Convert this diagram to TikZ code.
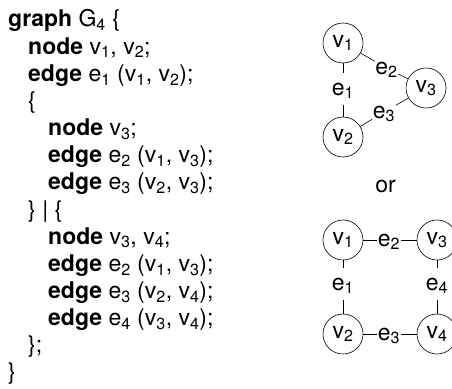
\documentclass[tikz,border=0pt]{standalone}
\usepackage{fontspec}
\setmainfont{TeX Gyre Heros}
\newcommand\sbs[1]{\textsubscript{#1}}
\begin{document}
\begin{tikzpicture}[x=1pt,y=-1pt,
  font=\fontsize{23}{27}\selectfont,
  codeline/.style={anchor=base west, inner sep=0pt},
  vert/.style={draw, circle, minimum size=40pt, inner sep=0pt, line width=0.6pt},
  elab/.style={inner xsep=0.5pt, inner ysep=0pt, text height=22pt, text depth=10pt},
  conn/.style={line width=0.6pt}]
\useasboundingbox (0,0) rectangle (452,388);
% code text
\node[codeline] (l1)  at (8,27)     {\textbf{graph} G\sbs{4} \{};
\node[codeline] (l2)  at (28,54.15) {\textbf{node} v\sbs{1}, v\sbs{2};};
\node[codeline] (l3)  at (28,81.3)  {\textbf{edge} e\sbs{1} (v\sbs{1}, v\sbs{2});};
\node[codeline] (l4)  at (28,108.45){\{};
\node[codeline] (l5)  at (48,135.6) {\textbf{node} v\sbs{3};};
\node[codeline] (l6)  at (48,162.75){\textbf{edge} e\sbs{2} (v\sbs{1}, v\sbs{3});};
\node[codeline] (l7)  at (48,189.9) {\textbf{edge} e\sbs{3} (v\sbs{2}, v\sbs{3});};
\node[codeline] (l8)  at (28,217.05){\} | \{};
\node[codeline] (l9)  at (48,244.2) {\textbf{node} v\sbs{3}, v\sbs{4};};
\node[codeline] (l10) at (48,271.35){\textbf{edge} e\sbs{2} (v\sbs{1}, v\sbs{3});};
\node[codeline] (l11) at (48,298.5) {\textbf{edge} e\sbs{3} (v\sbs{2}, v\sbs{4});};
\node[codeline] (l12) at (48,325.65){\textbf{edge} e\sbs{4} (v\sbs{3}, v\sbs{4});};
\node[codeline] (l13) at (28,352.8) {\};};
\node[codeline] (l14) at (8,379.95) {\}};
% triangle graph
\node[vert] (tv1) at (343,43)  {v\sbs{1}};
\node[vert] (tv2) at (343,137) {v\sbs{2}};
\node[vert] (tv3) at (426,88)  {v\sbs{3}};
\node[elab] (te1) at (343,89)   {e\sbs{1}};
\node[elab] (te2) at (386.5,68) {e\sbs{2}};
\node[elab] (te3) at (384,112)  {e\sbs{3}};
\draw[conn] (tv1) -- (te1) -- (tv2);
\draw[conn] (tv1) -- (te2) -- (tv3);
\draw[conn] (tv2) -- (te3) -- (tv3);
% or
\node[anchor=base, inner sep=0pt] (or) at (385.5,192) {or};
% square graph
\node[vert] (sv1) at (343,240) {v\sbs{1}};
\node[vert] (sv3) at (437,240) {v\sbs{3}};
\node[vert] (sv2) at (343,334) {v\sbs{2}};
\node[vert] (sv4) at (437,334) {v\sbs{4}};
\node[elab] (se1) at (343,284) {e\sbs{1}};
\node[elab] (se4) at (437,284) {e\sbs{4}};
\node[elab] (se2) at (389,240) {e\sbs{2}};
\node[elab] (se3) at (389,334) {e\sbs{3}};
\draw[conn] (sv1) -- (se1) -- (sv2);
\draw[conn] (sv3) -- (se4) -- (sv4);
\draw[conn] (sv1) -- (se2) -- (sv3);
\draw[conn] (sv2) -- (se3) -- (sv4);
\end{tikzpicture}
\end{document}
